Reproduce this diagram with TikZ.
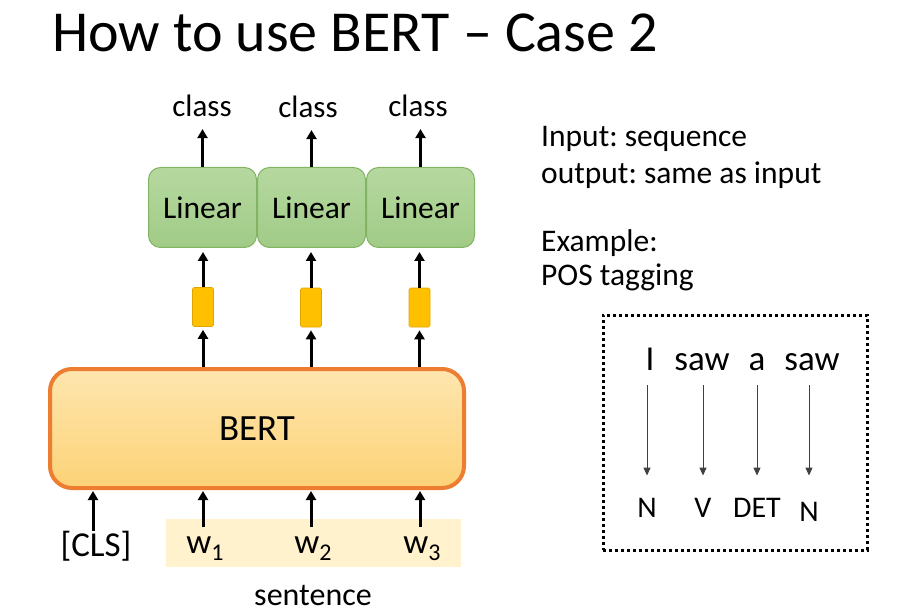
\documentclass[tikz,border=0pt]{standalone}
\usepackage{fontspec}
\setmainfont{Carlito}
\usetikzlibrary{arrows.meta, positioning}
\definecolor{bertline}{RGB}{237,125,49}
\definecolor{berttop}{RGB}{254,230,175}
\definecolor{bertbot}{RGB}{252,210,118}
\definecolor{lintop}{RGB}{182,216,160}
\definecolor{linbot}{RGB}{160,203,134}
\definecolor{linline}{RGB}{130,180,100}
\definecolor{vecfill}{RGB}{255,192,0}
\definecolor{vecline}{RGB}{225,165,0}
\definecolor{stripfill}{RGB}{255,242,204}
\frenchspacing

\begin{document}
\begin{tikzpicture}[
  x=1pt, y=-1pt,
  fs/.style={font=\fontsize{#1}{#1}\selectfont},
  linbox/.style={draw=linline, line width=1pt, rounded corners=12pt,
                 top color=lintop, bottom color=linbot,
                 minimum width=108pt, minimum height=80pt, fs=31.5},
  vec/.style={draw=vecline, line width=0.6pt, fill=vecfill, inner sep=0pt,
              rounded corners=1.5pt, minimum width=21pt, minimum height=39pt},
  bertbox/.style={draw=bertline, line width=4pt, rounded corners=22pt,
                  top color=berttop, bottom color=bertbot,
                  minimum width=414pt, minimum height=119pt, fs=37},
  lbl/.style={inner sep=0pt, fs=31},
  tok/.style={anchor=base, inner sep=0pt, fs=35},
  arr/.style={-{Triangle[length=9pt, width=10pt]}, line width=3pt},
  tagarr/.style={-{Triangle[length=8pt, width=7pt]}, line width=1pt, black!75},
]
\useasboundingbox (0,0) rectangle (907,612);

%% --- title ---
\node[anchor=base west, inner sep=0pt, fs=58] (title) at (52,52) {How to use BERT -- Case 2};

%% --- BERT and the heads ---
\node[bertbox] (bert) at (257,428.5) {BERT};

\node[linbox] (lin1) at (202.5,207.5) {Linear};
\node[linbox, right=0pt of lin1] (lin2) {Linear};
\node[linbox, right=0pt of lin2] (lin3) {Linear};

\node[vec] (v1) at (203,307) {};
\node[vec] (v2) at (311,307.5) {};
\node[vec] (v3) at (419.5,307.5) {};

\node[lbl] (c1) at (202,106) {class};
\node[lbl] (c2) at (308,107) {class};
\node[lbl] (c3) at (418,106) {class};

\foreach \i in {1,2,3} {
  \draw[arr, shorten >=12pt] (lin\i.north) -- (lin\i.north |- c\i.south);
  \draw[arr, shorten >=4pt] (v\i.north) -- (v\i.north |- lin\i.south);
  \draw[arr, shorten >=3pt] (v\i.south |- bert.north) -- (v\i.south);
}

%% --- input tokens ---
\node[fill=stripfill, minimum width=295pt, minimum height=48pt, inner sep=0pt] (strip) at (313.5,543) {};
\node[tok] (cls) at (96,556) {[CLS]};
\node[tok] (w1) at (205,553) {w\raisebox{-7pt}{\fontsize{24}{24}\selectfont 1}};
\node[tok] (w2) at (313,553) {w\raisebox{-7pt}{\fontsize{24}{24}\selectfont 2}};
\node[tok] (w3) at (422,553) {w\raisebox{-7pt}{\fontsize{24}{24}\selectfont 3}};
\node[lbl, fs=32] (sent) at (313,595) {sentence};

\draw[arr, shorten >=1pt] ([xshift=-3pt]cls.north) -- ([xshift=-3pt]cls.north |- bert.south);
\foreach \w in {w1,w2,w3}
  \draw[arr, shorten <=9pt, shorten >=1pt] ([xshift=-2pt]\w.north) -- ([xshift=-2pt]\w.north |- bert.south);

%% --- task description ---
\node[anchor=base west, inner sep=0pt, align=left, font=\fontsize{31.5}{37}\selectfont] (task) at (541,184)
  {Input: sequence\\output: same as input};
\node[anchor=base west, inner sep=0pt, align=left, font=\fontsize{31.5}{34}\selectfont] (example) at (541,286)
  {Example:\\POS tagging};

%% --- POS example ---
\node[draw, line width=3pt, dash pattern=on 3pt off 3pt, minimum width=264pt, minimum height=235pt] (frame) at (735,432.5) {};

\node[anchor=base, inner sep=0pt, fs=35] (tI)    at (650,370) {I};
\node[anchor=base, inner sep=0pt, fs=35] (tsaw)  at (702,370) {saw};
\node[anchor=base, inner sep=0pt, fs=35] (ta)    at (757,370) {a};
\node[anchor=base, inner sep=0pt, fs=35] (tsaw2) at (812,370) {saw};

\node[anchor=base, inner sep=0pt, fs=30] (gN1)  at (647,517) {N};
\node[anchor=base, inner sep=0pt, fs=30] (gV)   at (703,517) {V};
\node[anchor=base, inner sep=0pt, fs=30] (gDET) at (757,517) {DET};
\node[anchor=base, inner sep=0pt, fs=30] (gN2)  at (809,521) {N};

\draw[tagarr, shorten <=15pt, shorten >=22pt] (gN1 |- tI.south) -- (gN1.north);
\draw[tagarr, shorten <=15pt, shorten >=22pt] (gV |- tsaw.south) -- (gV |- gN1.north);
\draw[tagarr, shorten <=15pt, shorten >=22pt] (gDET |- ta.south) -- (gDET |- gN1.north);
\draw[tagarr, shorten <=15pt, shorten >=22pt] (gN2 |- tsaw2.south) -- (gN2 |- gN1.north);

\end{tikzpicture}
\end{document}
